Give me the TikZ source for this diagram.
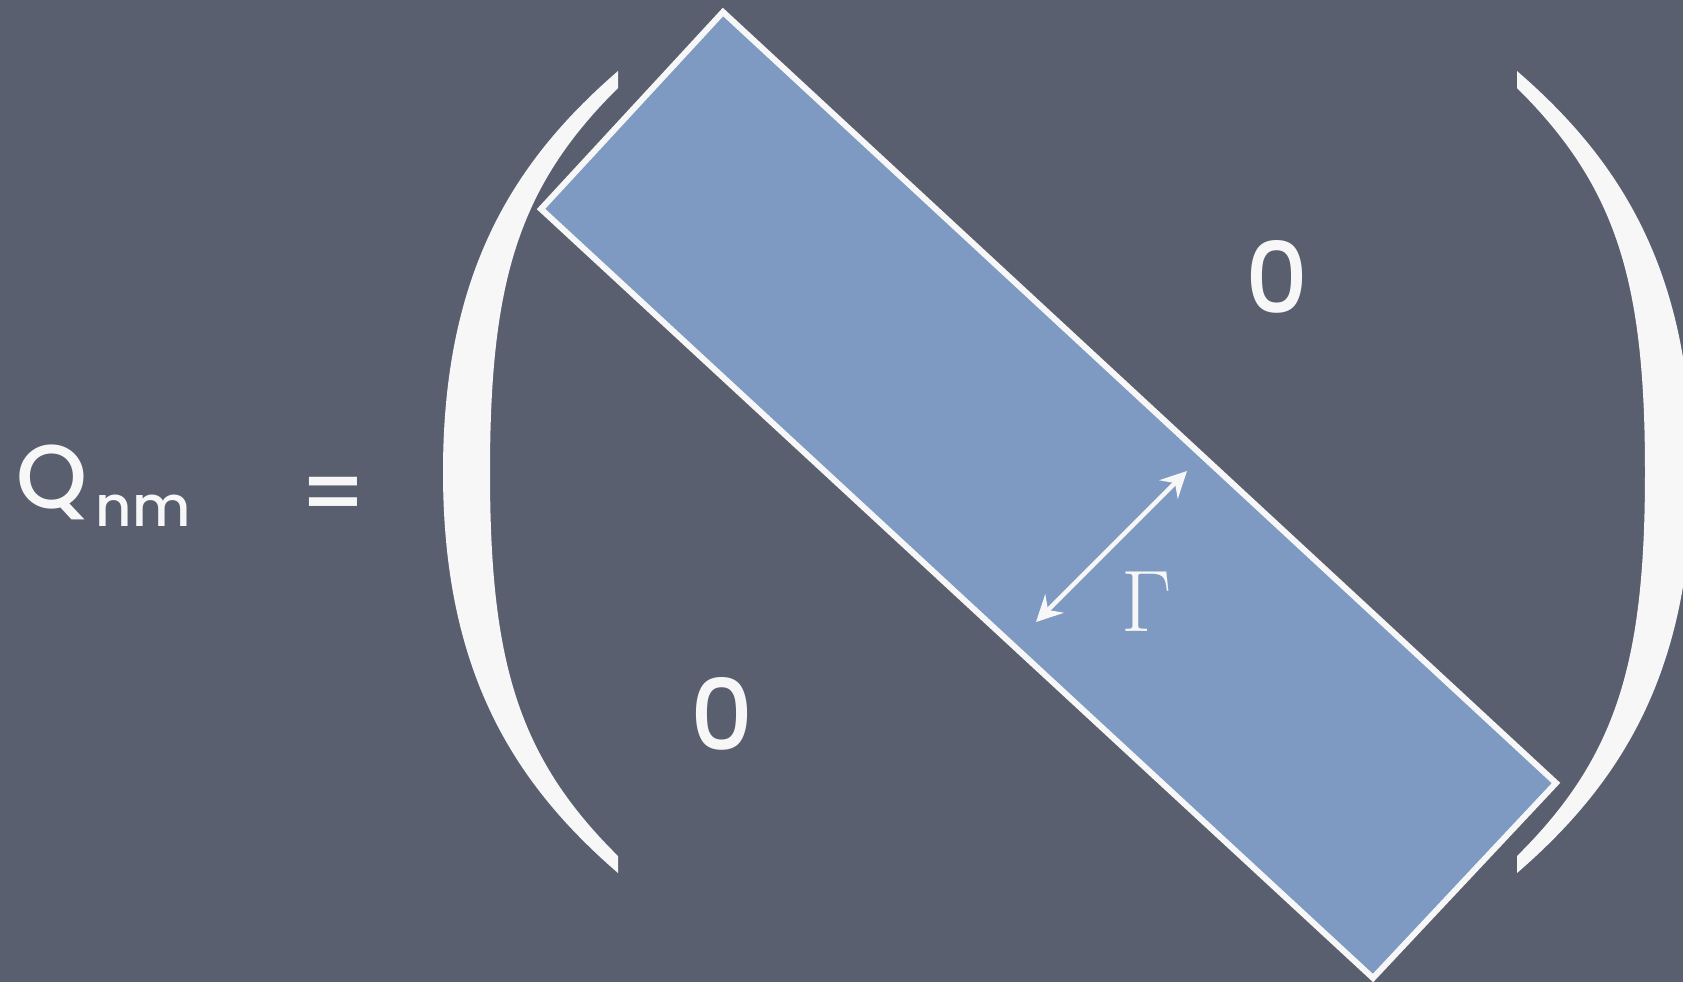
\documentclass[tikz,border=0pt]{standalone}
\usepackage{fontspec}
\setmainfont{Poppins}[BoldFont={Poppins Medium}]
\usetikzlibrary{arrows.meta, positioning, calc}

\definecolor{board}{RGB}{89,95,110}
\definecolor{band}{RGB}{126,154,194}
\definecolor{chalk}{RGB}{247,247,247}

\begin{document}
\begin{tikzpicture}[
        x=0.1mm, y=-0.1mm,
        chalktext/.style={text=chalk, inner sep=0pt, font=\bfseries},
        digit/.style={chalktext, font=\bfseries\fontsize{28}{30}\selectfont},
        arrow/.style={{Stealth[length=2.6mm,width=2.6mm,inset=0.9mm]}-{Stealth[length=2.6mm,width=2.6mm,inset=0.9mm]}, draw=chalk, line width=0.45mm},
        bandbox/.style={fill=band, draw=chalk, line width=0.6mm, line join=miter}
    ]

    % Board
    \fill[board] (0,0) rectangle (1683,982);
    \useasboundingbox (0,0) rectangle (1683,982);
    \clip (0,0) rectangle (1683,982);

    % Band along the diagonal
    \coordinate (top) at (723,12);
    \coordinate (right) at (1556,783);
    \coordinate (bottom) at (1373,978);
    \coordinate (left) at (541,209);
    \path[bandbox] (top) -- (right) -- (bottom) -- (left) -- cycle;

    % Parentheses
    \foreach \s/\m in {0/1, 2135/-1} {
        \begin{scope}[shift={(\s,0)}, xscale=\m]
            \fill[chalk] (618,71) .. controls (514,161) and (443,272) .. (443,472)
                .. controls (443,672) and (514,783) .. (618,873) -- (618,856)
                .. controls (518,757) and (490,662) .. (490,472)
                .. controls (490,282) and (518,187) .. (618,88) -- cycle;
        \end{scope}
    }

    % Nodes
    \node[chalktext, anchor=base west, font=\bfseries\fontsize{25.7}{30}\selectfont] (q) at (16,508)
        {Q\hspace{0.8mm}\raisebox{-1.8mm}{\fontsize{16}{18}\selectfont nm}};
    \node[chalktext, font=\bfseries\fontsize{25.7}{30}\selectfont] (eq) at (333,501) {=};
    \node[digit] (upper) at (1277,277) {0};
    \node[digit] (lower) at (722,714) {0};
    \node[chalktext, font=\mdseries\fontsize{29}{32}\selectfont] (gamma) at (1147,602) {$\Gamma$};

    % Width of the band
    \coordinate (w1) at (1036,622);
    \coordinate (w2) at (1187,471);
    \draw[arrow] (w1) -- (w2);

\end{tikzpicture}
\end{document}
